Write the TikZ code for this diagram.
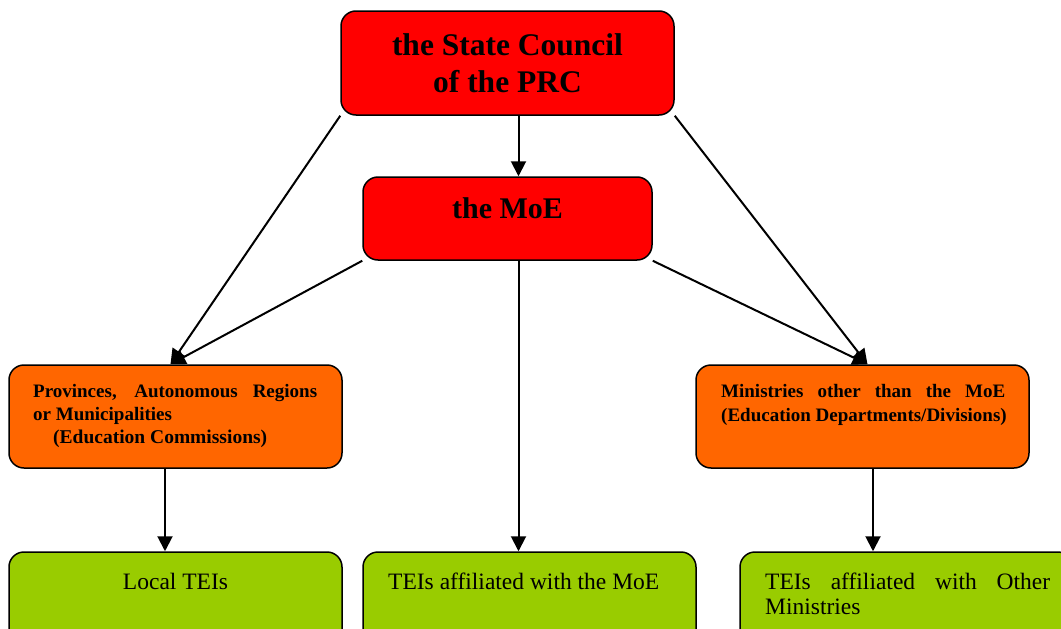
\documentclass[tikz,border=0pt]{standalone}
\usepackage{fontspec}
\setmainfont{Liberation Serif}
\usetikzlibrary{arrows.meta}
\definecolor{boxred}{HTML}{FF0000}
\definecolor{boxorange}{HTML}{FF6600}
\definecolor{boxgreen}{HTML}{99CC00}
\tikzset{
  box/.style={draw=black, line width=1.5pt, rounded corners=15pt, inner sep=0pt},
  conn/.style={line width=2pt, -{Triangle[length=15pt,width=15pt]}},
  titletxt/.style={anchor=base, inner sep=0pt, font=\fontsize{31.5}{36}\selectfont\bfseries},
  midtxt/.style={anchor=base west, inner sep=0pt, font=\fontsize{19}{23}\selectfont\bfseries},
  lowtxt/.style={anchor=base west, inner sep=0pt, font=\fontsize{23.5}{27}\selectfont},
}
\begin{document}
\begin{tikzpicture}[x=1pt,y=-1pt]
\useasboundingbox (0,0) rectangle (1061,629);
% boxes
\node[box, fill=boxred, minimum width=333pt, minimum height=104pt] (sc) at (507.5,63) {};
\node[box, fill=boxred, minimum width=289pt, minimum height=83pt] (moe) at (507.5,218.5) {};
\node[box, fill=boxorange, minimum width=333pt, minimum height=103pt] (prov) at (175.5,416.5) {};
\node[box, fill=boxorange, minimum width=333pt, minimum height=103pt] (mins) at (862.5,416.5) {};
\node[box, fill=boxgreen, minimum width=333pt, minimum height=100pt] (local) at (175.5,602) {};
\node[box, fill=boxgreen, minimum width=333pt, minimum height=100pt] (teimoe) at (529.5,602) {};
\node[box, fill=boxgreen, minimum width=333pt, minimum height=100pt] (teiother) at (906.5,602) {};
% texts
\node[titletxt] (sc1) at (507.5,55) {the State Council};
\node[titletxt] (sc2) at (507.5,92) {of the PRC};
\node[titletxt, font=\fontsize{30}{36}\selectfont\bfseries] (moet) at (507.5,218) {the MoE};
\node[midtxt] (p1) at (33,397) {\makebox[284pt][s]{Provinces, Autonomous Regions}};
\node[midtxt] (p2) at (33,420) {or Municipalities};
\node[midtxt, font=\fontsize{19.5}{23}\selectfont\bfseries] (p3) at (53,443) {(Education Commissions)};
\node[midtxt] (m1) at (721,397) {\makebox[284pt][s]{Ministries other than the MoE}};
\node[midtxt] (m2) at (721,421) {(Education Departments/Divisions)};
\node[lowtxt, anchor=base] (l1) at (175.5,589) {Local TEIs};
\node[lowtxt] (t1) at (388,589) {TEIs affiliated with the MoE};
\node[lowtxt] (o1) at (765,589) {\makebox[285pt][s]{TEIs affiliated with Other}};
\node[lowtxt] (o2) at (765,614) {Ministries};
% connectors
\draw[conn] ([xshift=11pt]sc.south) -- ([xshift=11pt]moe.north);
\draw[conn] (sc.south west) -- ([xshift=-5pt]prov.north);
\draw[conn] (moe.south west) -- ([xshift=-5pt]prov.north);
\draw[conn] (sc.south east) -- ([xshift=5pt]mins.north);
\draw[conn] (moe.south east) -- ([xshift=5pt]mins.north);
\draw[conn] ([xshift=11pt]moe.south) -- ([xshift=-11pt]teimoe.north);
\draw[conn] ([xshift=-10.5pt]prov.south) -- ([xshift=-10.5pt]local.north);
\draw[conn] ([xshift=10.5pt]mins.south) -- ([xshift=-33.5pt]teiother.north);
\end{tikzpicture}
\end{document}
